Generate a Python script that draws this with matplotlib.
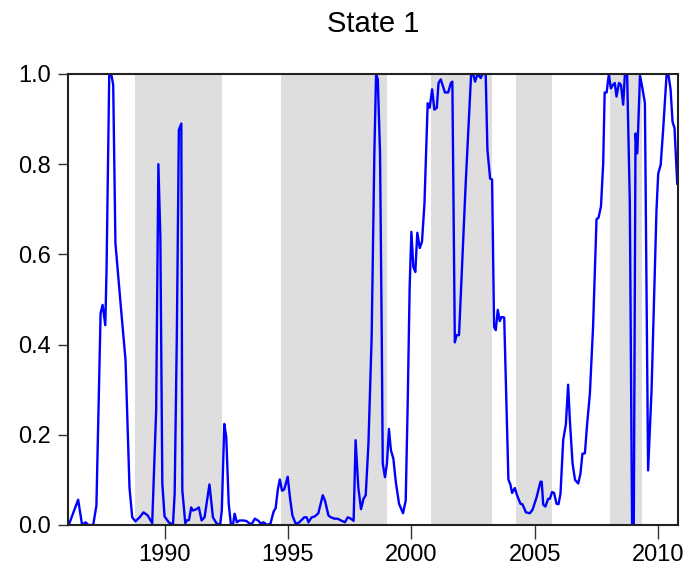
import matplotlib
matplotlib.use('Agg')
import matplotlib.pyplot as plt

# --- Data ---

years = [
    1986.12, 1986.50, 1986.66, 1986.80, 1986.91, 1987.11, 1987.24, 1987.41, 1987.49, 1987.60,
    1987.65, 1987.76, 1987.84, 1987.92, 1988.01, 1988.22, 1988.42, 1988.58, 1988.69, 1988.82,
    1988.99, 1989.15, 1989.32, 1989.50, 1989.66, 1989.75, 1989.83, 1989.91, 1990.00, 1990.17,
    1990.34, 1990.41, 1990.50, 1990.58, 1990.68, 1990.72, 1990.84, 1990.90, 1990.99, 1991.08,
    1991.15, 1991.29, 1991.39, 1991.50, 1991.62, 1991.82, 1991.96, 1992.10, 1992.25, 1992.32,
    1992.42, 1992.50, 1992.60, 1992.69, 1992.77, 1992.84, 1992.93, 1993.04, 1993.17, 1993.31,
    1993.45, 1993.54, 1993.66, 1993.81, 1993.90, 1994.01, 1994.15, 1994.29, 1994.42, 1994.50,
    1994.59, 1994.67, 1994.76, 1994.85, 1994.99, 1995.08, 1995.18, 1995.32, 1995.46, 1995.66,
    1995.76, 1995.83, 1995.96, 1996.09, 1996.23, 1996.41, 1996.50, 1996.64, 1996.74, 1996.88,
    1997.01, 1997.15, 1997.31, 1997.42, 1997.55, 1997.66, 1997.74, 1997.85, 1997.96, 1998.06,
    1998.15, 1998.26, 1998.39, 1998.50, 1998.57, 1998.64, 1998.73, 1998.80, 1998.84, 1998.93,
    1999.01, 1999.09, 1999.17, 1999.27, 1999.37, 1999.50, 1999.66, 1999.77, 1999.85, 1999.93,
    2000.00, 2000.08, 2000.16, 2000.24, 2000.34, 2000.43, 2000.53, 2000.66, 2000.74, 2000.84,
    2000.93, 2001.03, 2001.10, 2001.19, 2001.36, 2001.49, 2001.60, 2001.66, 2001.76, 2001.83,
    2001.93, 2002.20, 2002.42, 2002.50, 2002.58, 2002.68, 2002.81, 2002.88, 2003.01, 2003.08,
    2003.19, 2003.27, 2003.35, 2003.42, 2003.50, 2003.58, 2003.65, 2003.76, 2003.93, 2004.01,
    2004.08, 2004.19, 2004.28, 2004.42, 2004.50, 2004.64, 2004.80, 2004.91, 2005.07, 2005.23,
    2005.28, 2005.34, 2005.43, 2005.54, 2005.61, 2005.70, 2005.78, 2005.88, 2005.96, 2006.04,
    2006.15, 2006.26, 2006.35, 2006.42, 2006.53, 2006.63, 2006.76, 2006.85, 2006.93, 2007.03,
    2007.12, 2007.23, 2007.36, 2007.50, 2007.58, 2007.68, 2007.77, 2007.83, 2007.91, 2008.00,
    2008.08, 2008.17, 2008.24, 2008.31, 2008.41, 2008.49, 2008.58, 2008.65, 2008.74, 2008.85,
    2008.94, 2009.01, 2009.08, 2009.15, 2009.19, 2009.26, 2009.35, 2009.46, 2009.59, 2009.73,
    2009.93, 2010.00, 2010.10, 2010.20, 2010.34, 2010.42, 2010.50, 2010.58, 2010.66, 2010.77,
]

prob_state1 = [
    0.000, 0.056, 0.000, 0.006, 0.000, 0.000, 0.043, 0.470, 0.488, 0.443,
    0.566, 1.000, 1.000, 0.976, 0.625, 0.490, 0.365, 0.083, 0.017, 0.008,
    0.017, 0.028, 0.021, 0.004, 0.254, 0.800, 0.640, 0.092, 0.019, 0.006,
    0.000, 0.070, 0.430, 0.876, 0.890, 0.077, 0.004, 0.010, 0.011, 0.039,
    0.032, 0.035, 0.039, 0.010, 0.017, 0.090, 0.017, 0.004, 0.000, 0.032,
    0.224, 0.195, 0.047, 0.000, 0.000, 0.025, 0.006, 0.010, 0.010, 0.009,
    0.003, 0.003, 0.014, 0.009, 0.003, 0.006, 0.000, 0.003, 0.030, 0.037,
    0.079, 0.101, 0.076, 0.079, 0.107, 0.061, 0.021, 0.002, 0.006, 0.017,
    0.017, 0.006, 0.017, 0.019, 0.026, 0.066, 0.054, 0.021, 0.017, 0.014,
    0.014, 0.010, 0.006, 0.017, 0.014, 0.009, 0.188, 0.083, 0.035, 0.058,
    0.066, 0.180, 0.416, 0.824, 1.000, 0.988, 0.824, 0.416, 0.136, 0.106,
    0.136, 0.213, 0.166, 0.147, 0.095, 0.047, 0.026, 0.054, 0.268, 0.528,
    0.650, 0.572, 0.561, 0.648, 0.614, 0.628, 0.713, 0.935, 0.925, 0.966,
    0.921, 0.925, 0.980, 0.988, 0.959, 0.959, 0.980, 0.983, 0.405, 0.421,
    0.421, 0.757, 1.000, 1.000, 0.983, 1.000, 0.991, 1.000, 1.000, 0.832,
    0.768, 0.766, 0.439, 0.432, 0.477, 0.452, 0.461, 0.460, 0.101, 0.090,
    0.071, 0.082, 0.066, 0.047, 0.046, 0.028, 0.026, 0.034, 0.061, 0.096,
    0.096, 0.045, 0.041, 0.058, 0.058, 0.073, 0.071, 0.047, 0.046, 0.069,
    0.188, 0.224, 0.311, 0.232, 0.136, 0.100, 0.092, 0.114, 0.158, 0.159,
    0.224, 0.290, 0.439, 0.678, 0.681, 0.706, 0.801, 0.959, 0.959, 1.000,
    0.968, 0.976, 0.980, 0.950, 0.980, 0.976, 0.932, 1.000, 1.000, 0.713,
    0.002, 0.002, 0.868, 0.824, 0.883, 0.996, 0.972, 0.935, 0.121, 0.299,
    0.699, 0.779, 0.799, 0.877, 1.000, 0.996, 0.966, 0.894, 0.880, 0.757,
]

# shaded periods (start, end)
shade_start = [1988.82, 1994.73, 2000.78, 2004.22, 2008.04]
shade_end = [1992.34, 1999.00, 2003.26, 2005.68, 2009.33]

x_ticks = [1990, 1995, 2000, 2005, 2010]
y_ticks = [0.0, 0.2, 0.4, 0.6, 0.8, 1.0]

# --- Plot ---

plt.rcParams['font.family'] = ['Liberation Sans', 'DejaVu Sans']

fig = plt.figure(figsize=(6.97, 5.73), dpi=100)
ax = fig.add_axes([0.0976, 0.0838, 0.8751, 0.7871])

for s, e in zip(shade_start, shade_end):
    ax.axvspan(s, e, color='#dedede', lw=0, zorder=0)

ax.plot(years, prob_state1, color='#0000ff', lw=1.7, zorder=2)

ax.set_xlim(1986.09, 2010.80)
ax.set_ylim(0.0, 1.0)
ax.set_xticks(x_ticks)
ax.set_yticks(y_ticks)
ax.set_yticklabels([f'{v:.1f}' for v in y_ticks])

ax.tick_params(axis='both', direction='out', labelsize=17, width=1, color='#333333')
ax.tick_params(axis='x', length=10, pad=4)
ax.tick_params(axis='y', length=7, pad=5)

for side in ['top', 'bottom', 'left', 'right']:
    ax.spines[side].set_linewidth(1.5)
    ax.spines[side].set_color('#222222')

ax.set_title('State 1', fontsize=21, pad=30)

plt.savefig('out.png', dpi=100)
plt.close()
